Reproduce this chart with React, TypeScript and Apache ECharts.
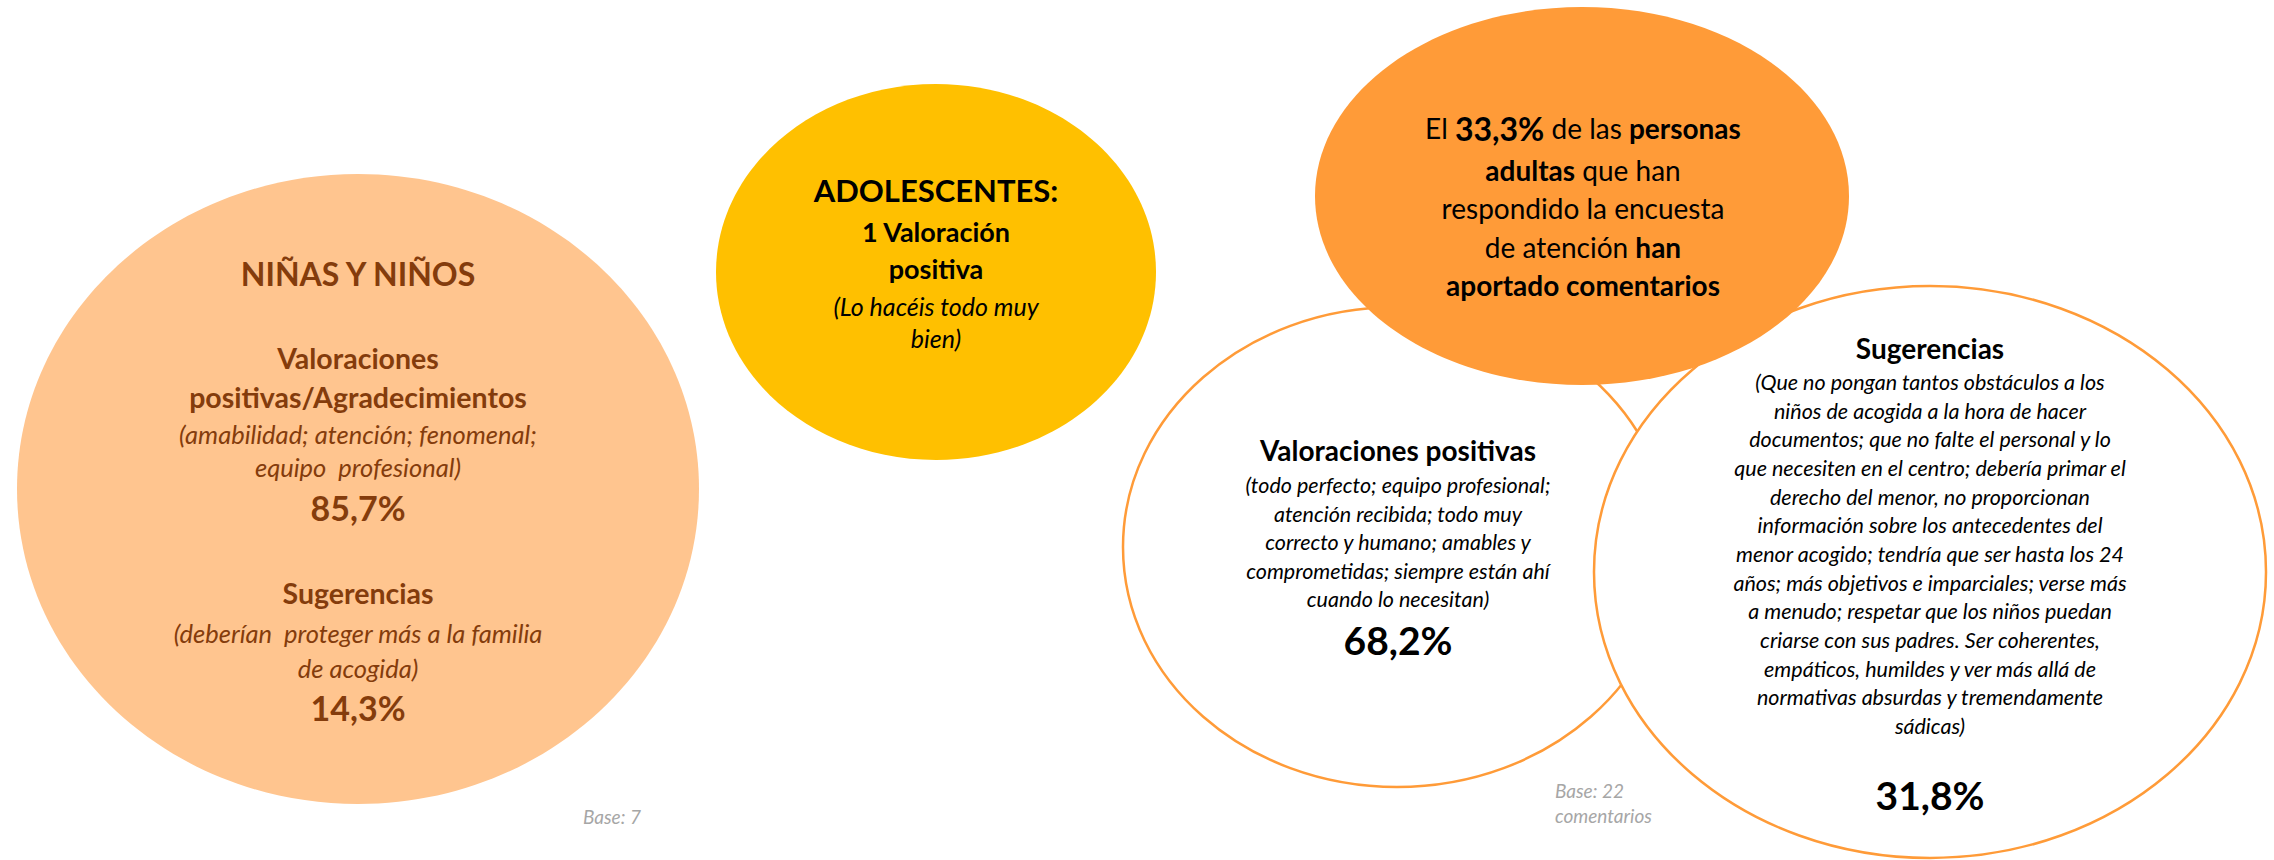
import React, { useEffect, useRef } from "react";
import * as echarts from "echarts";

// ---------- DATA ----------
const groupTitles = ["NIÑAS Y NIÑOS", "ADOLESCENTES:"];
const ninosCategories = ["Valoraciones positivas/Agradecimientos", "Sugerencias"];
const ninosValues = [85.7, 14.3];
const ninosDetails = [
  ["(amabilidad; atención; fenomenal;", "equipo  profesional)"],
  ["(deberían  proteger más a la familia", "de acogida)"],
];
const ninosBase = 7;

const adolescentesCount = 1;
const adolescentesDetail = ["(Lo hacéis todo muy", "bien)"];

const adultosShare = 33.3;
const adultosCategories = ["Valoraciones positivas", "Sugerencias"];
const adultosValues = [68.2, 31.8];
const adultosValoracionesDetail = [
  "(todo perfecto; equipo profesional;",
  "atención recibida; todo muy",
  "correcto y humano; amables y",
  "comprometidas; siempre están ahí",
  "cuando lo necesitan)",
];
const adultosSugerenciasDetail = [
  "(Que no pongan tantos obstáculos a los",
  "niños de acogida a la hora de hacer",
  "documentos; que no falte el personal y lo",
  "que necesiten en el centro; debería primar el",
  "derecho del menor, no proporcionan",
  "información sobre los antecedentes del",
  "menor acogido; tendría que ser hasta los 24",
  "años; más objetivos e imparciales; verse más",
  "a menudo; respetar que los niños puedan",
  "criarse con sus padres. Ser coherentes,",
  "empáticos, humildes y ver más allá de",
  "normativas absurdas y tremendamente",
  "sádicas)",
];
const adultosBase = 22;

// ---------- STYLE / LAYOUT ----------
const FONT = 'Lato, "Noto Sans", sans-serif';
const BROWN = "#843C0C";
const PEACH = "#FFC58F";
const YELLOW = "#FFC000";
const ORANGE = "#FF9B38";
const GRAY = "#A6A6A6";

const pct = (v: number) => v.toFixed(1).replace(".", ",") + "%";

function txt(
  x: number,
  y: number,
  text: string,
  size: number,
  opts: { bold?: boolean; italic?: boolean; color?: string; align?: string; rich?: any } = {}
) {
  const align = opts.align || "center";
  return {
    type: "text",
    z: 20,
    x,
    y,
    style: {
      text,
      fill: opts.color || "#000000",
      fontSize: size,
      fontFamily: FONT,
      fontWeight: opts.bold ? "bold" : "normal",
      fontStyle: opts.italic ? "italic" : "normal",
      align,
      verticalAlign: "middle",
      textAlign: align,
      textVerticalAlign: "middle",
      rich: opts.rich,
    },
  };
}

function ellipse(cx: number, cy: number, rx: number, ry: number, fill: string, z: number, stroke?: string) {
  return {
    type: "ellipse",
    z,
    shape: { cx, cy, rx, ry },
    style: stroke ? { fill, stroke, lineWidth: 2.5 } : { fill },
  };
}

function buildElements() {
  const els: any[] = [];

  // Shapes
  els.push(ellipse(358, 489, 341, 315, PEACH, 1));
  els.push(ellipse(936, 272, 220, 188, YELLOW, 2));
  els.push(ellipse(1397, 547, 274, 240, "#FFFFFF", 3, ORANGE));
  els.push(ellipse(1930, 572, 336, 286, "#FFFFFF", 4, ORANGE));
  els.push(ellipse(1582, 196, 267, 189, ORANGE, 5));

  // NIÑAS Y NIÑOS
  const nx = 358;
  els.push(txt(nx, 273, groupTitles[0], 32, { bold: true, color: BROWN }));
  const [valWord, ...valRest] = ninosCategories[0].split(" ");
  els.push(txt(nx, 358, valWord, 28.5, { bold: true, color: BROWN }));
  els.push(txt(nx, 397, valRest.join(" "), 28.5, { bold: true, color: BROWN }));
  els.push(txt(nx, 434, ninosDetails[0][0], 25.5, { italic: true, color: BROWN }));
  els.push(txt(nx, 467, ninosDetails[0][1], 25.5, { italic: true, color: BROWN }));
  els.push(txt(nx, 507, pct(ninosValues[0]), 34, { bold: true, color: BROWN }));
  els.push(txt(nx, 593, ninosCategories[1], 28.5, { bold: true, color: BROWN }));
  els.push(txt(nx, 633, ninosDetails[1][0], 25.5, { italic: true, color: BROWN }));
  els.push(txt(nx, 668, ninosDetails[1][1], 25.5, { italic: true, color: BROWN }));
  els.push(txt(nx, 707, pct(ninosValues[1]), 34, { bold: true, color: BROWN }));
  els.push(txt(583, 816, `Base: ${ninosBase}`, 19, { italic: true, color: GRAY, align: "left" }));

  // ADOLESCENTES
  const ax = 936;
  els.push(txt(ax, 190, groupTitles[1], 31, { bold: true }));
  els.push(txt(ax, 231, `${adolescentesCount} Valoración`, 27, { bold: true }));
  els.push(txt(ax, 268, "positiva", 27, { bold: true }));
  els.push(txt(ax, 306, adolescentesDetail[0], 25, { italic: true }));
  els.push(txt(ax, 338, adolescentesDetail[1], 25, { italic: true }));

  // ADULTOS header (orange)
  const ox = 1583;
  const rich = {
    b: { fontWeight: "bold", fontSize: 28, fontFamily: FONT, fill: "#000000" },
    p: { fontWeight: "bold", fontSize: 32, fontFamily: FONT, fill: "#000000" },
    n: { fontWeight: "normal", fontSize: 28, fontFamily: FONT, fill: "#000000" },
  };
  els.push(txt(ox, 128, `{n|El }{p|${pct(adultosShare)}}{n| de las }{b|personas}`, 28, { rich }));
  els.push(txt(ox, 170, `{b|adultas}{n| que han}`, 28, { rich }));
  els.push(txt(ox, 208, "respondido la encuesta", 28));
  els.push(txt(ox, 247, `{n|de atención }{b|han}`, 28, { rich }));
  els.push(txt(ox, 285, "aportado comentarios", 28, { bold: true }));

  // Valoraciones positivas (adultos)
  const vx = 1398;
  els.push(txt(vx, 450, adultosCategories[0], 28, { bold: true }));
  adultosValoracionesDetail.forEach((line, i) => {
    els.push(txt(vx, 485 + i * 28.5, line, 21.5, { italic: true }));
  });
  els.push(txt(vx, 640, pct(adultosValues[0]), 39, { bold: true }));
  els.push(txt(1555, 790, `Base: ${adultosBase}`, 19, { italic: true, color: GRAY, align: "left" }));
  els.push(txt(1555, 815, "comentarios", 19, { italic: true, color: GRAY, align: "left" }));

  // Sugerencias (adultos)
  const sx = 1930;
  els.push(txt(sx, 348, adultosCategories[1], 28, { bold: true }));
  adultosSugerenciasDetail.forEach((line, i) => {
    els.push(txt(sx, 382 + i * 28.67, line, 21.5, { italic: true }));
  });
  els.push(txt(sx, 795, pct(adultosValues[1]), 39, { bold: true }));

  return els;
}

export default function App() {
  const ref = useRef<HTMLDivElement>(null);
  useEffect(() => {
    if (!ref.current) return;
    const chart = echarts.init(ref.current, undefined, { renderer: "svg" });
    chart.setOption({
      animation: false,
      backgroundColor: "#FFFFFF",
      graphic: { elements: buildElements() },
    });
    return () => chart.dispose();
  }, []);
  return (
    <div
      ref={ref}
      style={{ position: "fixed", left: 0, top: 0, width: 2274, height: 860, background: "#fff" }}
    />
  );
}
